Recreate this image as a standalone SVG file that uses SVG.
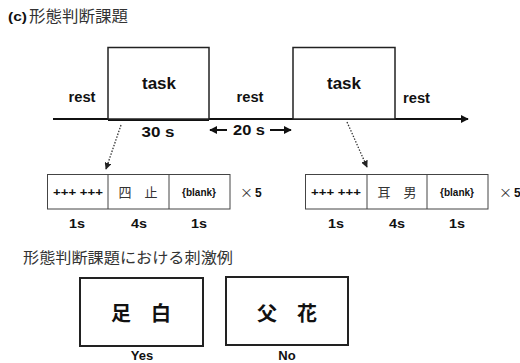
<svg xmlns="http://www.w3.org/2000/svg" width="520" height="363" viewBox="0 0 520 363">
<style>
.b{font-family:"Liberation Sans",Arial,sans-serif;font-weight:bold;fill:#111}
.j{font-family:"Noto Sans CJK JP",sans-serif;fill:#333}
.jb{font-family:"Noto Sans CJK JP",sans-serif;font-weight:bold;fill:#111}
.box{fill:#fff;stroke:#222;stroke-width:1.5}
.seq{fill:#fff;stroke:#444;stroke-width:1}
.big{fill:#fff;stroke:#222;stroke-width:2}
</style>
<defs>
<marker id="ah" viewBox="0 0 10 10" refX="9" refY="5" markerWidth="8" markerHeight="8" markerUnits="userSpaceOnUse" orient="auto"><path d="M0,0L10,5L0,10z" fill="#111"/></marker>
<marker id="ahs" viewBox="0 0 10 10" refX="9" refY="5" markerWidth="7" markerHeight="7" markerUnits="userSpaceOnUse" orient="auto"><path d="M0,0L10,5L0,10z" fill="#222"/></marker>
</defs>
<rect width="520" height="363" fill="#fff"/>
<g id="title">
<text x="8" y="21" class="b" font-size="13" textLength="19" lengthAdjust="spacingAndGlyphs">(c)</text>
<text x="29" y="22" class="j" font-size="16" textLength="99" lengthAdjust="spacingAndGlyphs">形態判断課題</text>
</g>
<g id="connectors">
<line x1="53" y1="119" x2="468" y2="119" stroke="#111" stroke-width="2" marker-end="url(#ah)"/>
<line x1="108" y1="119.5" x2="209" y2="119.5" stroke="#111" stroke-width="3"/>
<line x1="121" y1="125" x2="106" y2="169" stroke="#333" stroke-width="1.3" stroke-dasharray="1.5,1.5" marker-end="url(#ahs)"/>
<line x1="347" y1="122" x2="367" y2="167" stroke="#333" stroke-width="1.3" stroke-dasharray="1.5,1.5" marker-end="url(#ahs)"/>
<line x1="227" y1="130" x2="210" y2="130" stroke="#111" stroke-width="2" marker-end="url(#ah)"/>
<line x1="270" y1="130" x2="291" y2="130" stroke="#111" stroke-width="2" marker-end="url(#ah)"/>
</g>
<g id="rest1"><text x="82" y="102" class="b" font-size="14" text-anchor="middle" textLength="27" lengthAdjust="spacingAndGlyphs">rest</text></g>
<g id="task1">
<rect x="108" y="47.5" width="101" height="71.5" class="box"/>
<text x="159" y="89" class="b" font-size="17" text-anchor="middle">task</text>
</g>
<g id="rest2"><text x="250" y="102" class="b" font-size="14" text-anchor="middle" textLength="27" lengthAdjust="spacingAndGlyphs">rest</text></g>
<g id="task2">
<rect x="293" y="47.5" width="102" height="71.5" class="box"/>
<text x="344" y="89" class="b" font-size="17" text-anchor="middle">task</text>
</g>
<g id="rest3"><text x="403" y="103" class="b" font-size="14" textLength="27" lengthAdjust="spacingAndGlyphs">rest</text></g>
<g id="dur30"><text x="158" y="137" class="b" font-size="14" text-anchor="middle" textLength="33" lengthAdjust="spacingAndGlyphs">30 s</text></g>
<g id="dur20"><text x="249" y="135" class="b" font-size="14" text-anchor="middle" textLength="32" lengthAdjust="spacingAndGlyphs">20 s</text></g>
<g id="seq1">
<rect x="47.5" y="174.5" width="182.5" height="34.5" class="seq"/>
<line x1="108" y1="174.5" x2="108" y2="209" stroke="#444"/>
<line x1="169" y1="174.5" x2="169" y2="209" stroke="#444"/>
<text x="78" y="196" class="b" font-size="10" text-anchor="middle" textLength="50" lengthAdjust="spacingAndGlyphs">+++ +++</text>
<text x="138" y="197" class="j" font-size="13" text-anchor="middle">四　止</text>
<text x="199" y="196" class="b" font-size="10" text-anchor="middle" textLength="34" lengthAdjust="spacingAndGlyphs">{blank}</text>
<text x="240" y="197" class="j" font-size="13" fill="#555">×</text>
<text x="255" y="197" class="b" font-size="12">5</text>
<text x="77" y="228" class="b" font-size="12" text-anchor="middle" textLength="16" lengthAdjust="spacingAndGlyphs">1s</text>
<text x="139" y="228" class="b" font-size="12" text-anchor="middle" textLength="16" lengthAdjust="spacingAndGlyphs">4s</text>
<text x="199" y="228" class="b" font-size="12" text-anchor="middle" textLength="16" lengthAdjust="spacingAndGlyphs">1s</text>
</g>
<g id="seq2">
<rect x="305.5" y="174.5" width="182.5" height="34.5" class="seq"/>
<line x1="367" y1="174.5" x2="367" y2="209" stroke="#444"/>
<line x1="427" y1="174.5" x2="427" y2="209" stroke="#444"/>
<text x="336" y="196" class="b" font-size="10" text-anchor="middle" textLength="50" lengthAdjust="spacingAndGlyphs">+++ +++</text>
<text x="397" y="197" class="j" font-size="13" text-anchor="middle">耳　男</text>
<text x="457" y="196" class="b" font-size="10" text-anchor="middle" textLength="34" lengthAdjust="spacingAndGlyphs">{blank}</text>
<text x="499" y="197" class="j" font-size="13" fill="#555">×</text>
<text x="514" y="197" class="b" font-size="12">5</text>
<text x="336" y="228" class="b" font-size="12" text-anchor="middle" textLength="16" lengthAdjust="spacingAndGlyphs">1s</text>
<text x="397" y="228" class="b" font-size="12" text-anchor="middle" textLength="16" lengthAdjust="spacingAndGlyphs">4s</text>
<text x="457" y="228" class="b" font-size="12" text-anchor="middle" textLength="16" lengthAdjust="spacingAndGlyphs">1s</text>
</g>
<g id="subtitle"><text x="23" y="263" class="j" font-size="15" textLength="210" lengthAdjust="spacingAndGlyphs">形態判断課題における刺激例</text></g>
<g id="yes">
<rect x="80" y="278" width="123" height="68" class="big"/>
<text x="141" y="321" class="jb" font-size="20" text-anchor="middle">足　白</text>
<text x="142" y="360" class="b" font-size="13" text-anchor="middle">Yes</text>
</g>
<g id="no">
<rect x="226" y="277" width="122" height="68" class="big"/>
<text x="287" y="321" class="jb" font-size="20" text-anchor="middle">父　花</text>
<text x="287" y="360" class="b" font-size="13" text-anchor="middle">No</text>
</g>
</svg>
